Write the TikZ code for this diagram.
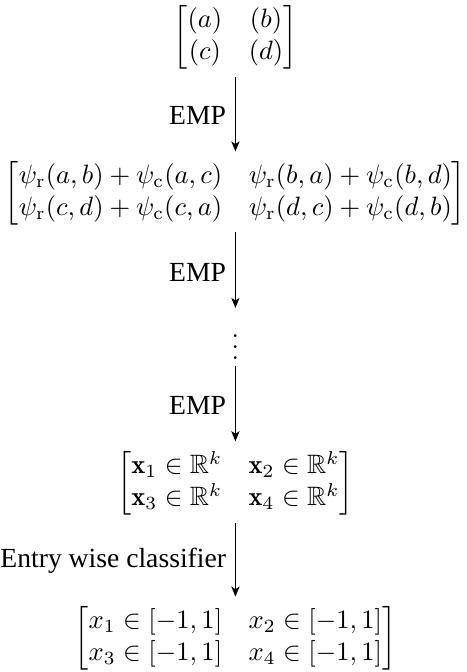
\documentclass[tikz,border=0pt]{standalone}
\usepackage{amsmath}
\usepackage{amssymb}
\usepackage{fontspec}
\newfontfamily\labelfont{Liberation Serif}
\usetikzlibrary{positioning, arrows.meta}

\begin{document}
\begin{tikzpicture}[
    node distance=34.2pt,
    mat/.style={inner sep=0pt},
    flow/.style={-{Stealth[length=3.8pt, width=3.1pt, inset=1pt]}, line width=0.4pt,
                 shorten <=2.5pt, shorten >=3.5pt},
    lbl/.style={font=\labelfont\fontsize{10.4}{12}\selectfont, left, midway}
  ]
    \useasboundingbox (-88.6pt,0) rectangle (86.8pt,-252.9pt);
    \node[mat, anchor=north] (start) at (0,-1.9pt)
      {$\begin{bmatrix}(a) & (b)\\(c) & (d)\end{bmatrix}$};
    \node[mat, below=of start] (pair)
      {$\begin{bmatrix}\psi_{\mathrm{r}}(a,b)+\psi_{\mathrm{c}}(a,c) & \psi_{\mathrm{r}}(b,a)+\psi_{\mathrm{c}}(b,d)\\
        \psi_{\mathrm{r}}(c,d)+\psi_{\mathrm{c}}(c,a) & \psi_{\mathrm{r}}(d,c)+\psi_{\mathrm{c}}(d,b)\end{bmatrix}$};
    \node[mat, below=35pt of pair] (dots) {$\vdots$};
    \node[mat, below=of dots] (embed)
      {$\begin{bmatrix}\mathbf{x}_1\in\mathbb{R}^k & \mathbf{x}_2\in\mathbb{R}^k\\
        \mathbf{x}_3\in\mathbb{R}^k & \mathbf{x}_4\in\mathbb{R}^k\end{bmatrix}$};
    \node[mat, below=33.9pt of embed] (out)
      {$\begin{bmatrix}x_1\in[-1,1] & x_2\in[-1,1]\\
        x_3\in[-1,1] & x_4\in[-1,1]\end{bmatrix}$};

    \draw[flow] (start) -- node[lbl]{EMP} (pair);
    \draw[flow, shorten >=4pt] (pair) -- node[lbl]{EMP} (dots);
    \draw[flow] (dots) -- node[lbl]{EMP} (embed);
    \draw[flow] (embed) -- node[lbl]{Entry wise classifier} (out);
  \end{tikzpicture}
\end{document}
